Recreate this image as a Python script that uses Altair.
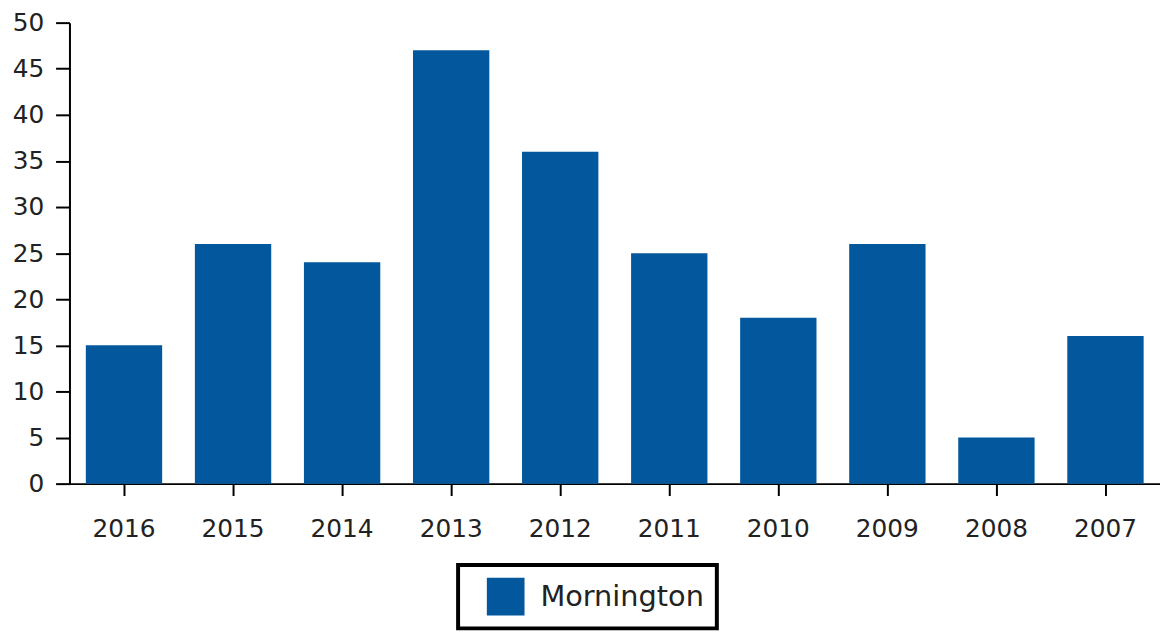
import altair as alt
import pandas as pd

years = ["2016", "2015", "2014", "2013", "2012", "2011", "2010", "2009", "2008", "2007"]
values = [15, 26, 24, 47, 36, 25, 18, 26, 5, 16]
series = ["Mornington"] * len(years)

df = pd.DataFrame({"year": years, "value": values, "series": series})

FONT = "DejaVu Sans"

chart = alt.Chart(df).mark_bar().encode(
    x=alt.X("year:N", sort=years, title=None,
            scale=alt.Scale(paddingInner=0.3, paddingOuter=0.15),
            axis=alt.Axis(labelAngle=0, labelFont=FONT, labelFontSize=25, labelColor="#222",
                          tickSize=12, tickWidth=2, tickColor="black",
                          domainColor="black", domainWidth=2, labelPadding=21)),
    y=alt.Y("value:Q", title=None,
            scale=alt.Scale(domain=[0, 50], nice=False),
            axis=alt.Axis(values=list(range(0, 51, 5)), labelFont=FONT, labelFontSize=25,
                          labelColor="#222", tickSize=14, tickWidth=2, tickColor="black",
                          domainColor="black", domainWidth=2, labelPadding=12, grid=False)),
    color=alt.Color("series:N", scale=alt.Scale(range=["#03579c"]),
                    legend=alt.Legend(title=None, orient="none", legendX=392, legendY=547,
                                      padding=13, symbolOffset=16, labelOffset=16,
                                      labelLimit=400,
                                      symbolType="square", symbolSize=1444, symbolStrokeWidth=0,
                                      labelFont=FONT, labelFontSize=29, labelColor="#222",
                                      fillColor="white")),
).properties(
    width=1100, height=465,
    padding={"left": 62, "top": 12, "right": 0, "bottom": 160},
    autosize=alt.AutoSizeParams(type="none"),
).configure_view(stroke=None).configure_legend(
    strokeColor="black", strokeWidth=4, cornerRadius=0
)

chart.save("out.html", embed_options={"renderer": "svg", "actions": False})
